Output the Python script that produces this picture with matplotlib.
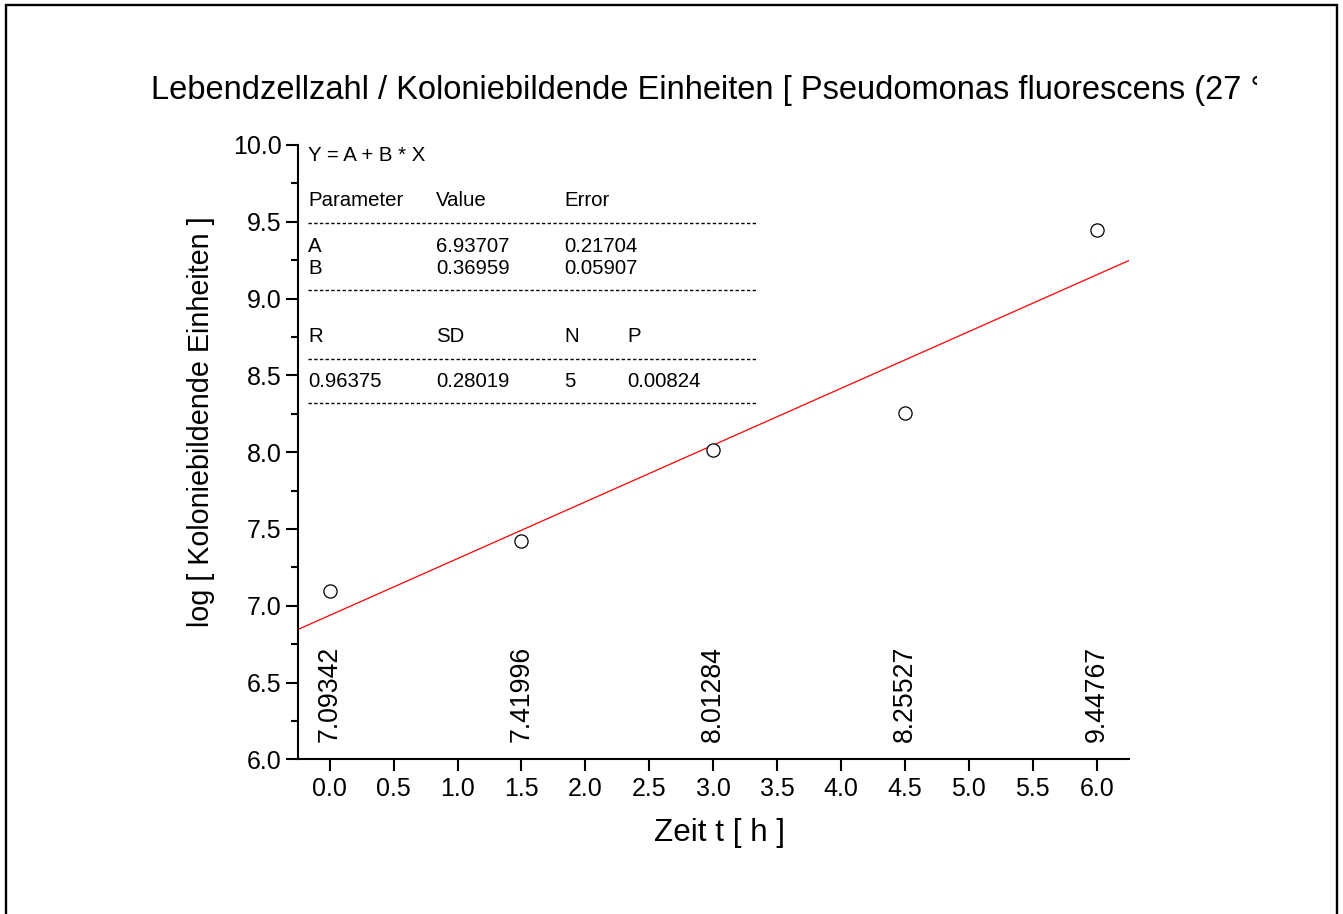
import matplotlib
matplotlib.use("Agg")
import matplotlib.pyplot as plt
from matplotlib.lines import Line2D
from matplotlib.patches import Rectangle
from matplotlib.transforms import Bbox, TransformedBbox
import numpy as np

plt.rcParams['font.family'] = ['Liberation Sans', 'DejaVu Sans']

# ---- data ----
time_h = [0.0, 1.5, 3.0, 4.5, 6.0]
log_cfu = [7.09342, 7.41996, 8.01284, 8.25527, 9.44767]
value_labels = ["7.09342", "7.41996", "8.01284", "8.25527", "9.44767"]
fit_A = 6.93707
fit_B = 0.36959
param_names = ["A", "B"]
param_values = ["6.93707", "0.36959"]
param_errors = ["0.21704", "0.05907"]
stat_headers = ["R", "SD", "N", "P"]
stat_values = ["0.96375", "0.28019", "5", "0.00824"]
x_ticks = [0.0, 0.5, 1.0, 1.5, 2.0, 2.5, 3.0, 3.5, 4.0, 4.5, 5.0, 5.5, 6.0]
y_ticks = [6.0, 6.5, 7.0, 7.5, 8.0, 8.5, 9.0, 9.5, 10.0]
title = "Lebendzellzahl / Koloniebildende Einheiten [ Pseudomonas fluorescens (27 °C) ]"
xlabel = "Zeit t [ h ]"
ylabel = "log [ Koloniebildende Einheiten ]"

W, H = 1343, 914
fig = plt.figure(figsize=(W / 100, H / 100), dpi=100)

def fx(px):
    return px / W

def fy(py):
    return 1 - py / H

ax = fig.add_axes([fx(297.7), fy(759.3), fx(1129.3) - fx(297.7), fy(145) - fy(759.3)])
ax.set_xlim(-0.25, 6.255)
ax.set_ylim(6.0, 10.0)
for s in ["top", "right"]:
    ax.spines[s].set_visible(False)
for s in ["left", "bottom"]:
    ax.spines[s].set_linewidth(1.5)

ax.set_xticks(x_ticks)
ax.set_xticklabels([f"{v:.1f}" for v in x_ticks])
ax.set_yticks(y_ticks)
ax.set_yticklabels([f"{v:.1f}" for v in y_ticks])
ax.set_yticks(np.arange(6.25, 10.0, 0.5), minor=True)
ax.tick_params(axis="both", which="major", direction="out", length=8.5, width=1.5,
               labelsize=18, colors="black")
ax.tick_params(axis="x", pad=4)
ax.tick_params(axis="y", pad=3)
ax.tick_params(axis="y", which="minor", direction="out", length=5, width=1.5)

# fit line
xl = np.array(ax.get_xlim())
ax.plot(xl, fit_A + fit_B * xl, color="red", lw=0.9, zorder=2)

# data points
ax.plot(time_h, log_cfu, linestyle="none", marker="o", ms=9.5, mfc="white",
        mec="black", mew=0.9, zorder=3)

# value labels
for x, lab in zip(time_h, value_labels):
    ax.text(x, 6.115, lab, rotation=90, ha="center", va="bottom", fontsize=19.2)

# title (clipped at right)
t = fig.text(fx(151), fy(99), title, fontsize=23.5, ha="left", va="baseline")
t.set_clip_on(True)
t.set_clip_box(TransformedBbox(Bbox([[0, 0], [1257 / W, 1]]), fig.transFigure))

# axis labels
fig.text(fx(719), fy(833), xlabel, fontsize=22.6, ha="center", va="center")
fig.text(fx(201), fy(422), ylabel, fontsize=20.7, ha="center", va="center", rotation=90)

# fit table
fs = 14.7
cols = [308, 436, 564, 627.7]
fig.text(fx(308), fy(160.7), "Y = A + B * X", fontsize=fs, va="baseline")
for c, h in zip(cols, ["Parameter", "Value", "Error"]):
    fig.text(fx(c), fy(206), h, fontsize=fs, va="baseline")
for i, (n, v, e) in enumerate(zip(param_names, param_values, param_errors)):
    yb = [251.7, 274.3][i]
    for c, s in zip(cols, [n, v, e]):
        fig.text(fx(c), fy(yb), s, fontsize=fs, va="baseline")
for c, s in zip(cols, stat_headers):
    fig.text(fx(c), fy(341.7), s, fontsize=fs, va="baseline")
for c, s in zip(cols, stat_values):
    fig.text(fx(c), fy(387.3), s, fontsize=fs, va="baseline")
for yl in [222.7, 290, 359, 402.7]:
    fig.add_artist(Line2D([fx(308), fx(757)], [fy(yl), fy(yl)], transform=fig.transFigure,
                          color="black", lw=1.0, dashes=(2.4, 1.7)))

# figure border (left, top, right; bottom lies outside)
fig.add_artist(Rectangle((fx(6), fy(950)), fx(1336.5) - fx(6), fy(5) - fy(950),
                         transform=fig.transFigure, fill=False, ec="black", lw=1.7,
                         clip_on=False))

fig.savefig("out.png", dpi=100)
